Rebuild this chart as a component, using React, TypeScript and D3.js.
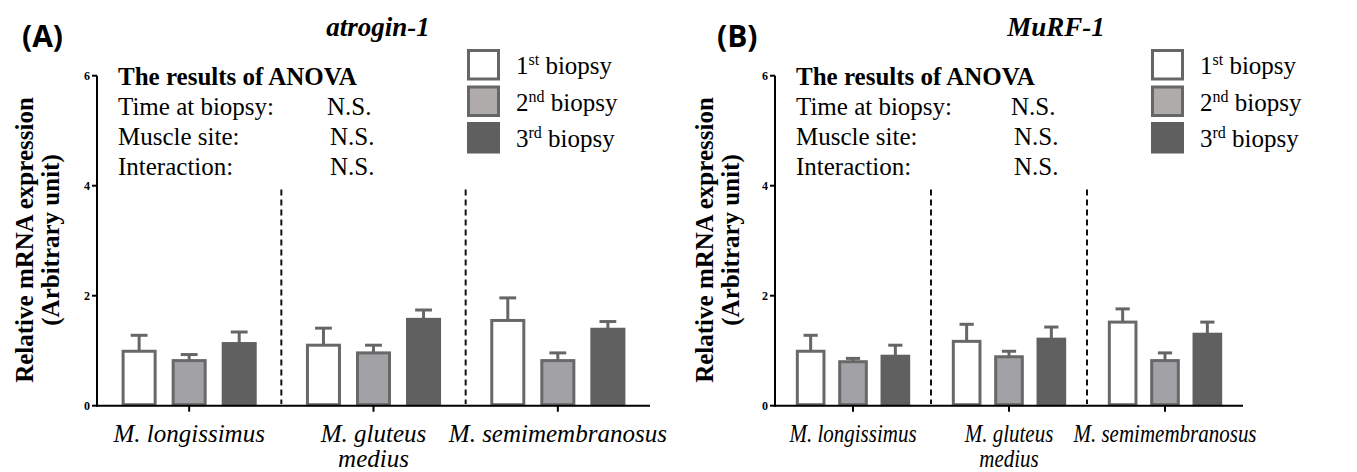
import React from "react";
import * as d3 from "d3";

const groups = ["M. longissimus", "M. gluteus medius", "M. semimembranosus"];
const seriesKeys = ["1st", "2nd", "3rd"];
const seriesSup = ["st", "nd", "rd"];
const seriesNum = ["1", "2", "3"];
const yTicks = [0, 2, 4, 6];

const atrogin1st = [0.99, 1.1, 1.55];
const atrogin1stErr = [0.29, 0.31, 0.41];
const atrogin2nd = [0.82, 0.96, 0.82];
const atrogin2ndErr = [0.11, 0.14, 0.14];
const atrogin3rd = [1.13, 1.57, 1.39];
const atrogin3rdErr = [0.21, 0.17, 0.14];

const murf1st = [0.99, 1.17, 1.52];
const murf1stErr = [0.29, 0.31, 0.24];
const murf2nd = [0.8, 0.89, 0.82];
const murf2ndErr = [0.06, 0.1, 0.14];
const murf3rd = [0.9, 1.21, 1.3];
const murf3rdErr = [0.2, 0.22, 0.22];

const anovaRows = ["Time at biopsy:", "Muscle site:", "Interaction:"];
const anovaResults = ["N.S.", "N.S.", "N.S."];

const fills = ["#ffffff", "#a2a2a6", "#606060"];
const strokes = ["#686868", "#686868", "#606060"];
const legendFills = ["#ffffff", "#afabab", "#5f5f5f"];

const SERIF = "'Liberation Serif', 'Times New Roman', serif";
const SANS = "'Open Sans', 'Noto Sans', sans-serif";
const FS = 25;

type PanelProps = {
  label: string;
  labelPos: number;
  title: string;
  titleX: number;
  axisX: number;
  axisEnd: number;
  legendX: number;
  nsX: number;
  labelX: number;
  xLabelScale: number;
  means: number[][];
  errs: number[][];
};

function Panel(p: PanelProps) {
  const y = d3.scaleLinear().domain([0, 6]).range([405.7, 75.7]);
  const x0 = d3
    .scaleBand<string>()
    .domain(groups)
    .range([p.axisX, p.axisEnd])
    .paddingInner(0.267)
    .paddingOuter(0.1335);
  const x1 = d3
    .scaleBand<string>()
    .domain(seriesKeys)
    .range([0, x0.bandwidth()])
    .paddingInner(0.3)
    .paddingOuter(0);
  const step = x0.step();
  const sw = 3;
  const capHalf = x1.bandwidth() * 0.24;
  const textX = p.axisX + 21;

  return (
    <g>
      <text x={p.labelPos} y={47} fontFamily={SANS} fontWeight={700} fontSize={30}>
        {p.label}
      </text>
      <text
        x={p.titleX}
        y={36}
        fontFamily={SERIF}
        fontWeight={700}
        fontStyle="italic"
        fontSize={27}
        textAnchor="middle"
      >
        {p.title}
      </text>

      {/* y axis title */}
      <g transform={`translate(${p.labelX},240) rotate(-90)`}>
        <text x={0} y={0} textAnchor="middle" fontFamily={SERIF} fontWeight={700} fontSize={FS}>
          Relative mRNA expression
        </text>
        <text x={0} y={26} textAnchor="middle" fontFamily={SERIF} fontWeight={700} fontSize={FS}>
          (Arbitrary unit)
        </text>
      </g>

      {/* ANOVA box */}
      <text x={textX} y={85} fontFamily={SERIF} fontWeight={700} fontSize={FS}>
        The results of ANOVA
      </text>
      {anovaRows.map((r, i) => (
        <g key={r}>
          <text x={textX} y={115 + i * 30} fontFamily={SERIF} fontSize={FS}>
            {r}
          </text>
          <text x={p.nsX + (i === 0 ? 0 : 3)} y={115 + i * 30} fontFamily={SERIF} fontSize={FS}>
            {anovaResults[i]}
          </text>
        </g>
      ))}

      {/* legend */}
      {seriesKeys.map((s, i) => (
        <g key={s}>
          <rect
            x={p.legendX + 1.5}
            y={50.5 + i * 36.5}
            width={30}
            height={28.5}
            fill={legendFills[i]}
            stroke={i === 2 ? legendFills[2] : "#666"}
            strokeWidth={3}
          />
          <text x={p.legendX + 49} y={74 + i * 36.5} fontFamily={SERIF} fontSize={FS}>
            {seriesNum[i]}
            <tspan fontSize={16} dy={-9}>
              {seriesSup[i]}
            </tspan>
            <tspan dy={9}> biopsy</tspan>
          </text>
        </g>
      ))}

      {/* dashed separators */}
      {[1, 2].map((k) => (
        <line
          key={k}
          x1={p.axisX + step * k}
          x2={p.axisX + step * k}
          y1={y(3.93)}
          y2={y(0.03)}
          stroke="#111"
          strokeWidth={2}
          strokeDasharray="6,4"
        />
      ))}

      {/* bars */}
      {groups.map((g, gi) => (
        <g key={g} transform={`translate(${x0(g)},0)`}>
          {seriesKeys.map((s, si) => {
            const v = p.means[si][gi];
            const e = p.errs[si][gi];
            const bx = (x1(s) as number) + sw / 2;
            const bw = x1.bandwidth() - sw;
            const cx = (x1(s) as number) + x1.bandwidth() / 2;
            return (
              <g key={s}>
                <line x1={cx} x2={cx} y1={y(v)} y2={y(v + e)} stroke="#666" strokeWidth={3} />
                <line
                  x1={cx - capHalf}
                  x2={cx + capHalf}
                  y1={y(v + e)}
                  y2={y(v + e)}
                  stroke="#666"
                  strokeWidth={3}
                />
                <rect
                  x={bx}
                  y={y(v)}
                  width={bw}
                  height={y(0) - y(v) - 1}
                  fill={fills[si]}
                  stroke={strokes[si]}
                  strokeWidth={sw}
                />
              </g>
            );
          })}
        </g>
      ))}

      {/* axes */}
      <line x1={p.axisX} x2={p.axisX} y1={y(6)} y2={y(0) + 1} stroke="#000" strokeWidth={2} />
      <line x1={p.axisX - 1} x2={p.axisEnd} y1={y(0)} y2={y(0)} stroke="#000" strokeWidth={2} />
      {yTicks.map((t) => (
        <g key={t}>
          <line x1={p.axisX - 5} x2={p.axisX} y1={y(t)} y2={y(t)} stroke="#000" strokeWidth={2} />
          <text
            x={p.axisX - 7}
            y={y(t) + 4}
            textAnchor="end"
            fontFamily={SERIF}
            fontWeight={700}
            fontSize={12}
          >
            {t}
          </text>
        </g>
      ))}
      {groups.map((g) => {
        const cx = (x0(g) as number) + x0.bandwidth() / 2;
        const lines = g === "M. gluteus medius" ? ["M. gluteus", "medius"] : [g];
        return (
          <g key={g}>
            <line x1={cx} x2={cx} y1={y(0)} y2={y(0) + 6} stroke="#000" strokeWidth={2} />
            {lines.map((l, li) => (
              <text
                key={l}
                transform={`translate(${cx},${442 + li * 25}) scale(${p.xLabelScale},1)`}
                textAnchor="middle"
                fontFamily={SERIF}
                fontStyle="italic"
                fontSize={FS}
              >
                {l}
              </text>
            ))}
          </g>
        );
      })}
    </g>
  );
}

export default function App() {
  return (
    <svg
      width={1357}
      height={472}
      style={{ position: "absolute", left: 0, top: 0, background: "#fff" }}
    >
      <rect width={1357} height={472} fill="#fff" />
      <Panel
        label="(A)"
        labelPos={22}
        title="atrogin-1"
        titleX={378}
        axisX={97}
        axisEnd={650}
        legendX={467}
        nsX={327}
        labelX={33}
        xLabelScale={1}
        means={[atrogin1st, atrogin2nd, atrogin3rd]}
        errs={[atrogin1stErr, atrogin2ndErr, atrogin3rdErr]}
      />
      <Panel
        label="(B)"
        labelPos={717}
        title="MuRF-1"
        titleX={1056}
        axisX={775}
        axisEnd={1243}
        legendX={1151}
        nsX={1011}
        labelX={713}
        xLabelScale={0.84}
        means={[murf1st, murf2nd, murf3rd]}
        errs={[murf1stErr, murf2ndErr, murf3rdErr]}
      />
    </svg>
  );
}
